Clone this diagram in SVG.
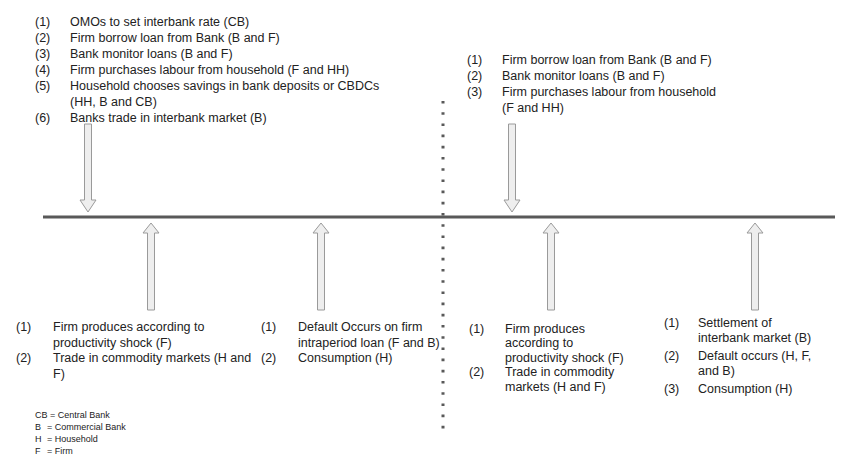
<svg xmlns="http://www.w3.org/2000/svg" xmlns:xlink="http://www.w3.org/1999/xlink" width="843" height="467" viewBox="0 0 843 467">
<style>
text{font-family:"Liberation Sans",Arial,sans-serif;fill:#222}
.t{font-size:12.5px}
.lg{font-size:9px}
.arr{fill:#eeeeee;stroke:#9a9a9a;stroke-width:1}
</style>
<defs>
<polygon id="down" class="arr" points="-3.5,0 3.5,0 3.5,76 8,76 0,88 -8,76 -3.5,76"/>
<polygon id="up" class="arr" points="0,0 8,10 3.5,10 3.5,87 -3.5,87 -3.5,10 -8,10"/>
</defs>
<rect width="843" height="467" fill="#ffffff"/>
<g id="connectors">
<line x1="43" y1="217" x2="835" y2="217" stroke="#595959" stroke-width="3"/>
<line x1="443" y1="101" x2="443" y2="430" stroke="#595959" stroke-width="3" stroke-dasharray="2.6 8.6"/>
<use xlink:href="#down" x="88" y="124"/>
<use xlink:href="#down" x="512" y="124"/>
<use xlink:href="#up" x="151" y="223"/>
<use xlink:href="#up" x="321" y="223"/>
<use xlink:href="#up" x="551" y="223"/>
<use xlink:href="#up" x="755" y="223"/>
</g>
<g id="top-left" class="t">
<text x="35" y="26">(1)</text><text x="70" y="26">OMOs to set interbank rate (CB)</text>
<text x="35" y="42">(2)</text><text x="70" y="42">Firm borrow loan from Bank (B and F)</text>
<text x="35" y="58">(3)</text><text x="70" y="58">Bank monitor loans (B and F)</text>
<text x="35" y="74">(4)</text><text x="70" y="74">Firm purchases labour from household (F and HH)</text>
<text x="35" y="90">(5)</text><text x="70" y="90">Household chooses savings in bank deposits or CBDCs</text>
<text x="70" y="106">(HH, B and CB)</text>
<text x="35" y="122">(6)</text><text x="70" y="122">Banks trade in interbank market (B)</text>
</g>
<g id="top-right" class="t">
<text x="467" y="64">(1)</text><text x="502" y="64">Firm borrow loan from Bank (B and F)</text>
<text x="467" y="80">(2)</text><text x="502" y="80">Bank monitor loans (B and F)</text>
<text x="467" y="96">(3)</text><text x="502" y="96">Firm purchases labour from household</text>
<text x="502" y="112">(F and HH)</text>
</g>
<g id="bottom-1" class="t">
<text x="16" y="331">(1)</text><text x="53" y="331">Firm produces according to</text>
<text x="53" y="347">productivity shock (F)</text>
<text x="16" y="362">(2)</text><text x="53" y="362">Trade in commodity markets (H and</text>
<text x="53" y="378">F)</text>
</g>
<g id="bottom-2" class="t">
<text x="261" y="331">(1)</text><text x="298" y="331">Default Occurs on firm</text>
<text x="298" y="347">intraperiod loan (F and B)</text>
<text x="261" y="362">(2)</text><text x="298" y="362">Consumption (H)</text>
</g>
<g id="bottom-3" class="t">
<text x="469" y="333">(1)</text><text x="505" y="333">Firm produces</text>
<text x="505" y="347">according to</text>
<text x="505" y="362">productivity shock (F)</text>
<text x="469" y="376">(2)</text><text x="505" y="376">Trade in commodity</text>
<text x="505" y="391">markets (H and F)</text>
</g>
<g id="bottom-4" class="t">
<text x="664" y="327">(1)</text><text x="698" y="327">Settlement of</text>
<text x="698" y="342">interbank market (B)</text>
<text x="664" y="360">(2)</text><text x="698" y="360">Default occurs (H, F,</text>
<text x="698" y="375">and B)</text>
<text x="664" y="393">(3)</text><text x="698" y="393">Consumption (H)</text>
</g>
<g id="legend" class="lg">
<text x="35" y="418">CB = Central Bank</text>
<text x="35" y="430">B</text><text x="47" y="430">= Commercial Bank</text>
<text x="35" y="442">H</text><text x="47" y="442">= Household</text>
<text x="35" y="454">F</text><text x="47" y="454">= Firm</text>
</g>
</svg>
